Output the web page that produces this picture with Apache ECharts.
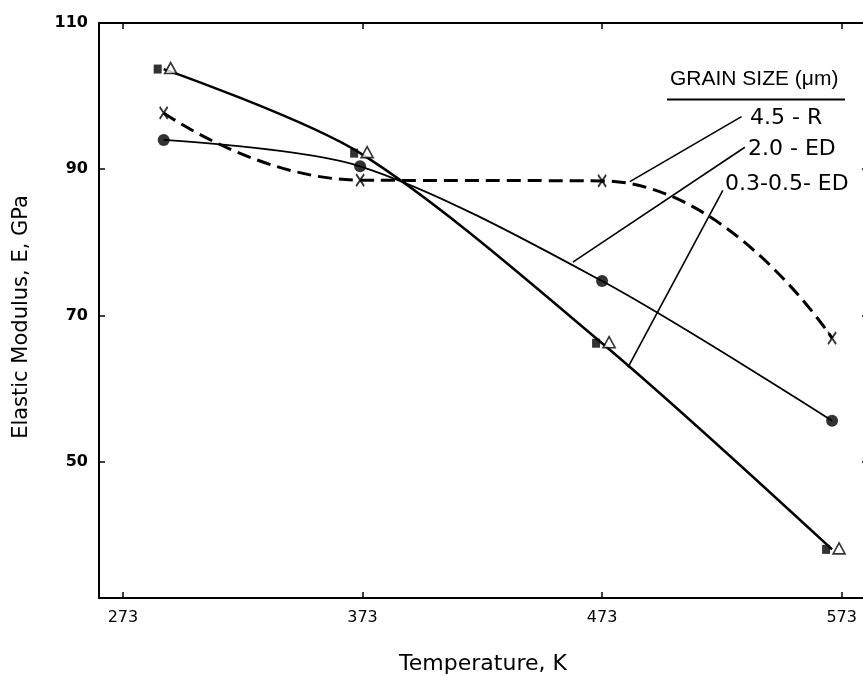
<!DOCTYPE html>
<html>
<head>
<meta charset="utf-8">
<script src="https://cdn.jsdelivr.net/npm/echarts@6/dist/echarts.min.js"></script>
<style>
  html, body { margin: 0; padding: 0; background: #fff; overflow: hidden; }
  /* the plot frame runs slightly past the right edge of the window */
  #chart { width: 872px; height: 676px; }
</style>
</head>
<body>
<div id="chart"></div>
<script>
// Temperatures (K) at which each grain size was measured
const temperatures = [290, 372, 473, 569];

// Elastic modulus E (GPa) for each grain size
const modulusFine = [103.7, 92.2, 66.2, 38.0];   // 0.3-0.5 um, ED  (square + triangle)
const modulusMid = [94.0, 90.4, 74.7, 55.6];     // 2.0 um, ED      (filled circle)
const modulusCoarse = [97.7, 88.5, 88.4, 66.9];  // 4.5 um, R       (x, dashed)

// Tick values on each axis
const xTicks = [273, 373, 473, 573];
const yTicks = [50, 70, 90, 110];

// Legend entries and the curve point each leader line points at (data units)
const legendTitle = 'GRAIN SIZE (\u03bcm)';
const legendLabels = ['4.5 - R', '2.0 - ED', '0.3-0.5- ED'];
const leaderStarts = [[531.2, 97.2], [532.6, 93.0], [523.4, 87.1]];
const leaderEnds = [[484.6, 88.3], [460.8, 77.3], [483.8, 62.9]];

const pair = (ys) => temperatures.map((t, i) => [t, ys[i]]);

const X_MIN = 263, X_MAX = 584, Y_MIN = 31.35, Y_MAX = 110;
const INK = '#000';
const tickFont = 'DejaVu Sans';

const chart = echarts.init(document.getElementById('chart'), null, { renderer: 'canvas' });

const frameX = (pos, showLabels) => ({
  type: 'value', position: pos, min: X_MIN, max: X_MAX,
  axisLine: { show: true, onZero: false, lineStyle: { color: INK, width: 2 } },
  axisTick: { show: true, inside: true, length: 6, customValues: xTicks, lineStyle: { color: INK, width: 1.5 } },
  axisLabel: { show: showLabels, customValues: xTicks, margin: 12, color: INK,
               fontFamily: tickFont, fontSize: 16 },
  splitLine: { show: false }
});
const frameY = (pos, showLabels) => ({
  type: 'value', position: pos, min: Y_MIN, max: Y_MAX,
  axisLine: { show: true, onZero: false, lineStyle: { color: INK, width: 2 } },
  axisTick: { show: true, inside: true, length: 6, customValues: yTicks, lineStyle: { color: INK, width: 1.5 } },
  axisLabel: { show: showLabels, customValues: yTicks, margin: 11, color: INK,
               fontFamily: tickFont, fontSize: 16, fontWeight: 'bold' },
  splitLine: { show: false }
});

const option = {
  backgroundColor: '#fff',
  animation: false,
  grid: { left: 99, top: 23, right: 4, bottom: 78, containLabel: false },
  xAxis: [frameX('bottom', true), frameX('top', false)],
  yAxis: [frameY('left', true), frameY('right', false)],
  graphic: [
    { type: 'text', x: 483, y: 664,
      style: { text: 'Temperature, K', fill: INK, font: '22px "DejaVu Sans"',
               align: 'center', verticalAlign: 'middle' } },
    { type: 'text', x: 22, y: 317, rotation: Math.PI / 2,
      style: { text: 'Elastic Modulus, E, GPa', fill: INK, font: '21px "DejaVu Sans"',
               align: 'center', verticalAlign: 'middle' } },
    { type: 'text', x: 670, y: 79,
      style: { text: legendTitle, fill: INK, font: '21px "Liberation Sans"',
               align: 'left', verticalAlign: 'middle' } },
    { type: 'line', shape: { x1: 667, y1: 99.5, x2: 845, y2: 99.5 },
      style: { stroke: INK, lineWidth: 2 } },
    { type: 'text', x: 750, y: 118,
      style: { text: legendLabels[0], fill: INK, font: '22px "DejaVu Sans"', verticalAlign: 'middle' } },
    { type: 'text', x: 748, y: 149,
      style: { text: legendLabels[1], fill: INK, font: '22px "DejaVu Sans"', verticalAlign: 'middle' } },
    { type: 'text', x: 725, y: 184,
      style: { text: legendLabels[2], fill: INK, font: '22px "DejaVu Sans"', verticalAlign: 'middle' } }
  ],
  series: [
    // curves
    { type: 'line', data: pair(modulusFine), smooth: 0.3, showSymbol: false, symbol: 'none',
      lineStyle: { color: INK, width: 2.5 }, z: 2 },
    { type: 'line', data: pair(modulusMid), smooth: 0.3, showSymbol: false, symbol: 'none',
      lineStyle: { color: INK, width: 1.8 }, z: 2 },
    { type: 'line', data: pair(modulusCoarse), smooth: 0.5, showSymbol: false, symbol: 'none',
      lineStyle: { color: INK, width: 3, type: [14, 7] }, z: 2 },
    // markers
    { type: 'scatter', data: pair(modulusFine), symbol: 'rect', symbolSize: [8, 9], symbolOffset: [-6, 0],
      itemStyle: { color: INK }, z: 4 },
    { type: 'scatter', data: pair(modulusFine), symbol: 'triangle', symbolSize: [12, 11], symbolOffset: [7, -1],
      itemStyle: { color: '#fff', borderColor: INK, borderWidth: 1.6 }, z: 4 },
    { type: 'scatter', data: pair(modulusMid), symbol: 'circle', symbolSize: 12,
      itemStyle: { color: INK }, z: 4 },
    { type: 'scatter', data: pair(modulusCoarse), symbol: 'path://M0,0L8,12M8,0L0,12', symbolSize: [8, 12],
      symbolKeepAspect: false,
      itemStyle: { color: 'rgba(0,0,0,0)', borderColor: INK, borderWidth: 2 }, z: 4 },
    // legend leader lines
    { type: 'lines', coordinateSystem: 'cartesian2d', polyline: false, silent: true,
      data: leaderStarts.map((s, i) => ({ coords: [s, leaderEnds[i]] })),
      lineStyle: { color: INK, width: 1.6, opacity: 1 }, z: 3 }
  ]
};

chart.setOption(option);
</script>
</body>
</html>
